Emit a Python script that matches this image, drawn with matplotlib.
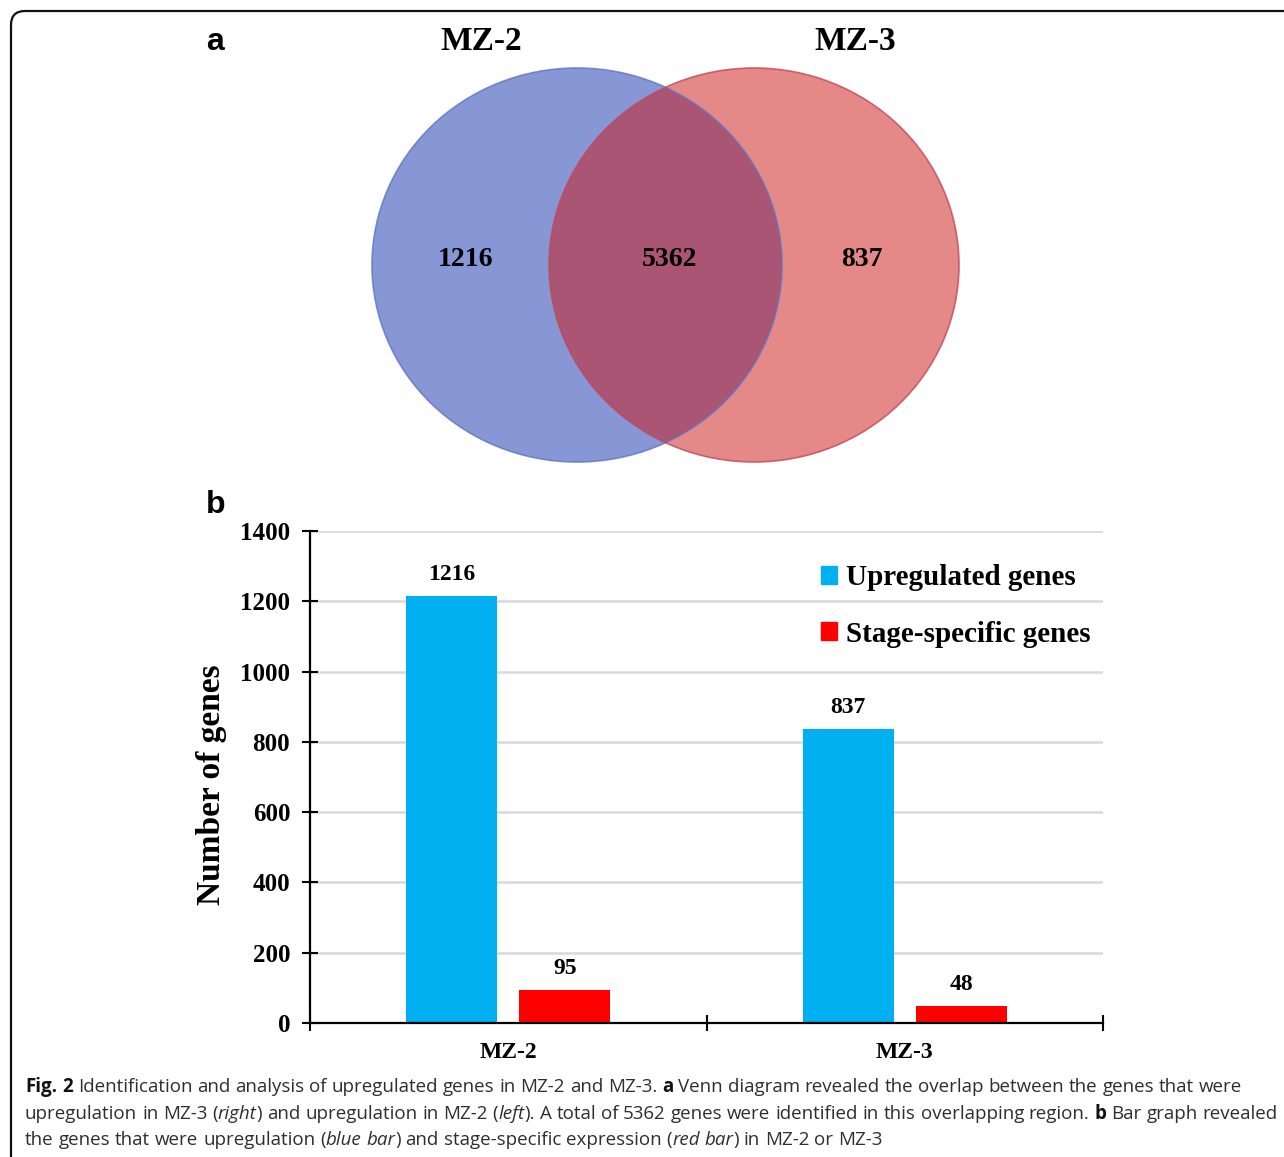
import matplotlib
matplotlib.use("Agg")
import matplotlib.pyplot as plt
from matplotlib.patches import Ellipse, FancyBboxPatch, Patch

W, H = 1284, 1157
DPI = 100

# ---- Venn diagram (panel a) ----
set_names = ["MZ-2", "MZ-3"]
venn_counts = [1216, 5362, 837]          # MZ-2 only, shared, MZ-3 only

# ---- Bar chart (panel b) ----
categories = ["MZ-2", "MZ-3"]
upregulated = [1216, 837]
stage_specific = [95, 48]
series_labels = ["Upregulated genes", "Stage-specific genes"]
y_ticks = [0, 200, 400, 600, 800, 1000, 1200, 1400]

# ---- Caption, as runs of (text, style) ----
caption_lines = [
    [("Fig. 2", "b"), (" Identification and analysis of upregulated genes in MZ-2 and MZ-3. ", "r"),
     ("a", "b"), (" Venn diagram revealed the overlap between the genes that were", "r")],
    [("upregulation in MZ-3 (", "r"), ("right", "i"), (") and upregulation in MZ-2 (", "r"),
     ("left", "i"), ("). A total of 5362 genes were identified in this overlapping region. ", "r"),
     ("b", "b"), (" Bar graph revealed", "r")],
    [("the genes that were upregulation (", "r"), ("blue bar", "i"),
     (") and stage-specific expression (", "r"), ("red bar", "i"), (") in MZ-2 or MZ-3", "r")],
]

SERIF = "Liberation Serif"
SANS = "Liberation Sans"
CAP_FONT = ["Liberation Sans Narrow", "Open Sans", "DejaVu Sans"]

fig = plt.figure(figsize=(W / DPI, H / DPI), dpi=DPI)
fig.patch.set_facecolor("white")

# Overlay axes in pixel units (y grows downward)
ov = fig.add_axes([0, 0, 1, 1], zorder=0)
ov.set_xlim(0, W)
ov.set_ylim(H, 0)
ov.axis("off")

# Rounded frame, open to the right and bottom
frame = FancyBboxPatch((11, 11), W + 40, H + 40,
                       boxstyle="round,pad=0,rounding_size=14",
                       fill=False, edgecolor="#111111", linewidth=1.6)
ov.add_patch(frame)

# Panel letters
ov.text(215, 42, "a", fontsize=23, fontweight="bold", family=SANS, ha="center", va="center")
ov.text(216, 505, "b", fontsize=23, fontweight="bold", family=SANS, ha="center", va="center")

# Venn ellipses
ex = [577, 754]
ey = 265
ew, eh = 410, 394
left = Ellipse((ex[0], ey), ew, eh, facecolor="#8797D6", edgecolor="none", zorder=1)
right = Ellipse((ex[1], ey), ew, eh, facecolor=(203 / 255, 21 / 255, 17 / 255), alpha=0.5,
                edgecolor="none", zorder=2)
ov.add_patch(left)
ov.add_patch(right)
ov.add_patch(Ellipse((ex[0], ey), ew, eh, facecolor="none", edgecolor="#6274C4",
                     linewidth=1.2, alpha=0.8, zorder=3))
ov.add_patch(Ellipse((ex[1], ey), ew, eh, facecolor="none", edgecolor="#C2475A",
                     linewidth=1.2, alpha=0.8, zorder=3))

for name, x in zip(set_names, [481, 855]):
    ov.text(x, 41, name, fontsize=24, fontweight="bold", family=SERIF,
            ha="center", va="center", zorder=4)
for val, x in zip(venn_counts, [465, 670, 862]):
    ov.text(x, 259, str(val), fontsize=20, fontweight="bold", family=SERIF,
            ha="center", va="center", zorder=4)

# ---- Bar chart ----
ax = fig.add_axes([310 / W, (H - 1023) / H, (1103 - 310) / W, (1023 - 531) / H], zorder=1)
ax.patch.set_visible(False)
xs = list(range(len(categories)))
bw = 0.23
off = 0.1425
b1 = ax.bar([x - off for x in xs], upregulated, bw, color="#00B0F0", label=series_labels[0], zorder=2)
b2 = ax.bar([x + off for x in xs], stage_specific, bw, color="#FF0000", label=series_labels[1], zorder=2)
for cont in (b1, b2):
    ax.bar_label(cont, padding=8, fontsize=17, fontweight="bold", family=SERIF)

ax.set_xlim(-0.5, len(categories) - 0.5)
ax.set_ylim(0, 1400)
ax.set_yticks(y_ticks)
ax.set_yticklabels([str(t) for t in y_ticks], fontsize=18, fontweight="bold", family=SERIF)
for t in y_ticks[1:]:
    ax.axhline(t, color="#D9D9D9", linewidth=1.8, zorder=1)

ax.set_xticks([x - 0.5 for x in xs] + [len(categories) - 0.5])
ax.set_xticklabels([])
ax.set_xticks(xs, minor=True)
ax.set_xticklabels(categories, minor=True, fontsize=17, fontweight="bold", family=SERIF)
ax.tick_params(axis="x", which="major", direction="inout", length=11.5, width=1.5)
ax.tick_params(axis="x", which="minor", length=0, pad=13.5)
ax.tick_params(axis="y", direction="inout", length=11.5, width=1.5, pad=8.5)

for s in ("top", "right"):
    ax.spines[s].set_visible(False)
for s in ("left", "bottom"):
    ax.spines[s].set_linewidth(1.6)
    ax.spines[s].set_zorder(3)

ax.set_ylabel("Number of genes", fontsize=24, fontweight="bold", family=SERIF)
ax.yaxis.set_label_coords((227 - 310) / 793, (1023 - 785) / 492)

leg = ax.legend(handles=[Patch(color="#00B0F0"), Patch(color="#FF0000")],
                labels=series_labels, loc="center left",
                bbox_to_anchor=(821 / W, 1 - 606 / H), bbox_transform=fig.transFigure,
                frameon=False, borderaxespad=0, borderpad=0,
                handlelength=0.55, handleheight=0.55, handletextpad=0.3,
                labelspacing=1.0, prop={"family": SERIF, "weight": "bold", "size": 21})

# ---- Caption ----
renderer = fig.canvas.get_renderer()

def style_kw(style, size):
    kw = dict(family=CAP_FONT, fontsize=size, color="#2e2e2e")
    if style == "b":
        kw.update(fontweight="bold", color="#111111")
    elif style == "i":
        kw.update(fontstyle="italic")
    return kw

def measure(s, style, size):
    t = ov.text(0, 0, s, **style_kw(style, size))
    w = t.get_window_extent(renderer).width
    t.remove()
    return w

def draw_line(runs, x, y, size, draw=True):
    sp = measure("a a", "r", size) - measure("aa", "r", size)
    for text, style in runs:
        parts = text.split(" ")
        for i, part in enumerate(parts):
            if i > 0:
                x += sp
            if part:
                if draw:
                    t = ov.text(x, y, part, va="center", ha="left", **style_kw(style, size))
                    x += t.get_window_extent(renderer).width
                else:
                    x += measure(part, style, size)
    return x

base = 13.0
width1 = draw_line(caption_lines[1], 0, 0, base, draw=False)
cap_size = base * (1276 - 25) / width1
for runs, y in zip(caption_lines, [1087, 1114, 1140]):
    draw_line(runs, 25, y, cap_size)

fig.savefig("out.png", dpi=DPI)
